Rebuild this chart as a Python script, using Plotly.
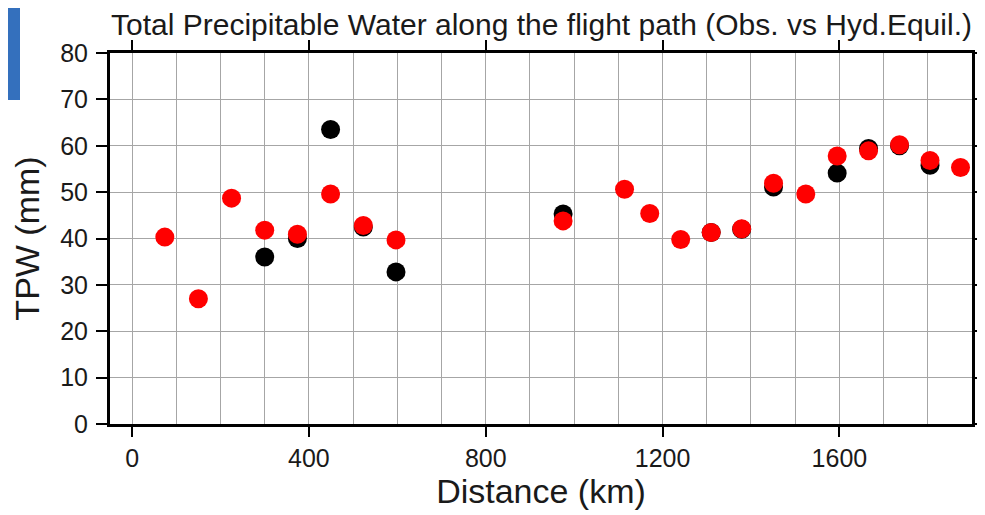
import plotly.graph_objects as go

# Distance along flight path (km) and TPW (mm)
red_dist = [74, 150, 225, 300, 374, 449, 523, 597, 975, 1114, 1171, 1241, 1310, 1379,
            1451, 1524, 1595, 1666, 1736, 1805, 1874]
red_tpw = [40.3, 27.0, 48.7, 41.8, 40.9, 49.6, 42.8, 39.7, 43.8, 50.6, 45.4, 39.8, 41.3, 42.1,
           51.9, 49.6, 57.8, 58.9, 60.2, 56.8, 55.3]

black_dist = [300, 374, 449, 523, 597, 975, 1310, 1379, 1451, 1595, 1666, 1736, 1805]
black_tpw = [36.0, 40.0, 63.5, 42.5, 32.8, 45.3, 41.3, 42.0, 51.1, 54.1, 59.4, 60.0, 55.8]

title_text = "Total Precipitable Water along the flight path (Obs. vs Hyd.Equil.)"
x_title = "Distance (km)"
y_title = "TPW (mm)"

FONT = "Liberation Sans, Arial, Helvetica, sans-serif"
TXT = "#1a1a1a"
GRID = "#a6a6a6"

# the page body has an 8px default margin, so the figure is sized to fit the window
W, H = 977, 507
L, R, T, B = 102, 13, 45, 91
PW, PH = W - L - R, H - T - B

fig = go.Figure()
fig.add_trace(go.Scatter(x=black_dist, y=black_tpw, mode="markers",
                         marker=dict(color="#000000", size=19), name="Obs."))
fig.add_trace(go.Scatter(x=red_dist, y=red_tpw, mode="markers",
                         marker=dict(color="#ff0000", size=19), name="Hyd.Equil."))

fig.update_layout(
    width=W, height=H,
    margin=dict(l=L, r=R, t=T, b=B),
    plot_bgcolor="white", paper_bgcolor="white",
    showlegend=False,
    font=dict(family=FONT, color=TXT),
)

fig.update_xaxes(
    range=[-50, 1900], tick0=0, dtick=400, automargin=False,
    ticks="outside", ticklen=10, tickwidth=1.5, tickcolor="black",
    showline=True, linewidth=3, linecolor="black", mirror="ticks",
    showgrid=True, gridcolor=GRID, gridwidth=1, zeroline=False,
    minor=dict(tick0=0, dtick=100, showgrid=True, gridcolor=GRID, gridwidth=1, ticks=""),
    tickfont=dict(size=25, family=FONT, color=TXT),
    title=dict(text=x_title, font=dict(size=34, family=FONT, color=TXT), standoff=4),
)
fig.update_yaxes(
    range=[0, 80], tick0=0, dtick=10, automargin=False,
    ticks="outside", ticklen=11, tickwidth=1.5, tickcolor="black",
    showline=True, linewidth=3, linecolor="black", mirror="ticks",
    showgrid=True, gridcolor=GRID, gridwidth=1, zeroline=False,
    ticklabelstandoff=3,
    tickfont=dict(size=25, family=FONT, color=TXT),
    title=dict(text=y_title, font=dict(size=34, family=FONT, color=TXT), standoff=14),
)

fig.add_annotation(text=title_text, xref="paper", yref="paper", x=0.5, y=1 + 29 / PH,
                   yanchor="middle", xanchor="center", showarrow=False,
                   font=dict(size=30, family=FONT, color=TXT))

# blue slide decoration at the top-left corner
fig.add_shape(type="rect", xref="paper", yref="paper",
              x0=-L / PW, x1=(12 - L) / PW, y0=1 + (T - 92) / PH, y1=1 + (T + 5) / PH,
              fillcolor="#3470bd", line=dict(width=0), layer="above")

fig.write_html("out.html")
